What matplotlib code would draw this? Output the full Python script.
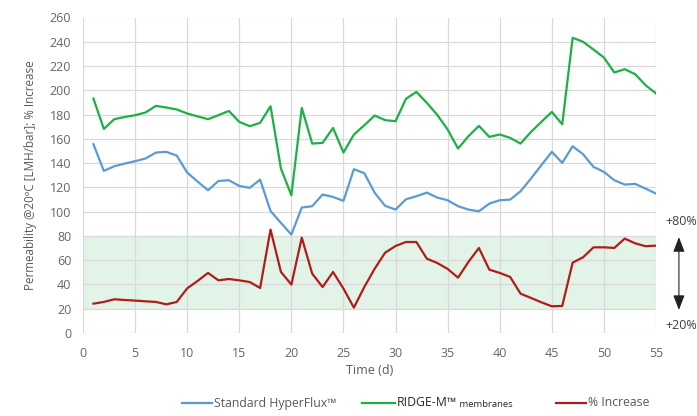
import matplotlib
matplotlib.use("Agg")
import matplotlib.pyplot as plt
from matplotlib.lines import Line2D

plt.rcParams['font.family'] = ['Open Sans', 'DejaVu Sans']

days = list(range(1, 56))
standard = [155.6, 133.6, 137.4, 139.6, 141.6, 143.8, 148.7, 149.3, 146.2, 132.2,
            124.8, 117.6, 125.3, 125.9, 121.2, 119.6, 126.4, 100.6, 90.7, 81.1,
            103.4, 104.5, 114.1, 112.1, 108.9, 135.0, 131.7, 115.5, 104.8, 101.7,
            110.2, 112.7, 115.7, 111.6, 109.4, 104.5, 101.7, 100.3, 106.6, 109.4,
            109.9, 116.8, 127.3, 138.3, 149.3, 140.2, 153.9, 147.3, 136.9, 132.8,
            125.9, 122.3, 122.9, 119.0, 114.9]
ridge = [193.2, 168.2, 176.2, 178.0, 179.5, 181.7, 187.2, 185.8, 184.2, 180.9,
         178.5, 176.2, 179.5, 183.0, 174.0, 170.4, 173.2, 186.9, 135.5, 113.5,
         185.5, 156.1, 156.7, 169.0, 148.7, 163.5, 171.2, 179.2, 175.4, 174.5,
         193.0, 198.7, 189.7, 179.8, 167.7, 152.0, 162.2, 170.7, 161.6, 163.6,
         160.8, 156.1, 165.7, 174.0, 182.2, 172.0, 243.3, 240.0, 233.6, 227.0,
         214.7, 217.4, 213.3, 204.2, 197.4]
increase = [24.2, 25.6, 27.8, 27.2, 26.7, 26.1, 25.6, 23.6, 25.6, 36.8,
            42.9, 49.5, 43.4, 44.5, 43.4, 42.0, 37.1, 85.2, 50.3, 39.9,
            78.6, 48.9, 37.9, 50.3, 36.6, 20.9, 37.9, 53.0, 66.2, 71.7,
            75.0, 75.0, 61.3, 57.7, 52.8, 45.6, 58.6, 70.1, 52.2, 49.5,
            46.2, 32.4, 28.9, 25.3, 22.0, 22.3, 58.0, 62.4, 70.6, 70.6,
            70.1, 77.8, 73.9, 71.5, 72.0]

band_low, band_high = 20, 80
xticks = list(range(0, 56, 5))
yticks = list(range(0, 261, 20))

c_blue = '#5b9bd5'
c_green = '#1db045'
c_red = '#b01c1c'
c_text = '#595959'
c_tick = '#666666'

fig = plt.figure(figsize=(6.97, 4.16), dpi=100)
ax = fig.add_axes([83/697, 1-333/416, 573/697, (333-17.5)/416])

ax.axhspan(band_low, band_high, color='#e2f3e7', zorder=0, lw=0)
ax.plot(days, standard, color=c_blue, lw=1.6, zorder=3)
ax.plot(days, ridge, color=c_green, lw=1.6, zorder=3)
ax.plot(days, increase, color=c_red, lw=1.6, zorder=3)

ax.set_xlim(0, 55)
ax.set_ylim(0, 260)
ax.set_xticks(xticks)
ax.set_yticks(yticks)
ax.grid(True, color='#d9d9d9', lw=0.9, zorder=1)
ax.set_axisbelow(True)
for s in ax.spines.values():
    s.set_visible(False)
ax.tick_params(axis='x', length=0, labelsize=9, colors=c_tick, pad=10)
ax.tick_params(axis='y', length=0, labelsize=9, colors=c_tick, pad=8.5)
ax.set_xlabel('Time (d)', fontsize=9, color=c_text, labelpad=3)
ax.set_ylabel('Permeability @20ºC [LMH/bar]; % Increase', fontsize=8.4, color=c_text, labelpad=9)

# right-side annotations
tr = ax.get_yaxis_transform()
ax.text(1.044, 92, '+80%', transform=tr, ha='center', va='center', fontsize=9,
        color='#404040', clip_on=False)
ax.text(1.044, 6, '+20%', transform=tr, ha='center', va='center', fontsize=9,
        color='#404040', clip_on=False)
ax.annotate('', xy=(1.04, 79), xytext=(1.04, 19), xycoords=tr, textcoords=tr,
            arrowprops=dict(arrowstyle='<|-|>,head_length=0.9,head_width=0.35',
                            color='#222222', lw=0.8, shrinkA=0, shrinkB=0),
            annotation_clip=False)

# legend
ly = 1 - 403/416
def leg_line(x0, x1, color):
    fig.add_artist(Line2D([x0/697, x1/697], [ly, ly], color=color, lw=1.6,
                          transform=fig.transFigure))
leg_line(182, 212, c_blue)
fig.text(214/697, ly, 'Standard HyperFlux™', fontsize=8.8, color=c_text, va='center')
leg_line(362, 395, c_green)
t = fig.text(397/697, ly, 'RIDGE-M™', fontsize=8.8, color='#262626', va='center')
ax.annotate(' membranes', xy=(1, 0), xycoords=t, fontsize=6.8, color='#262626',
            va='bottom', ha='left', xytext=(0, 0.5), textcoords='offset points')
leg_line(556, 586, c_red)
fig.text(588/697, ly, '% Increase', fontsize=8.8, color=c_text, va='center')

fig.savefig('out.png', dpi=100)
